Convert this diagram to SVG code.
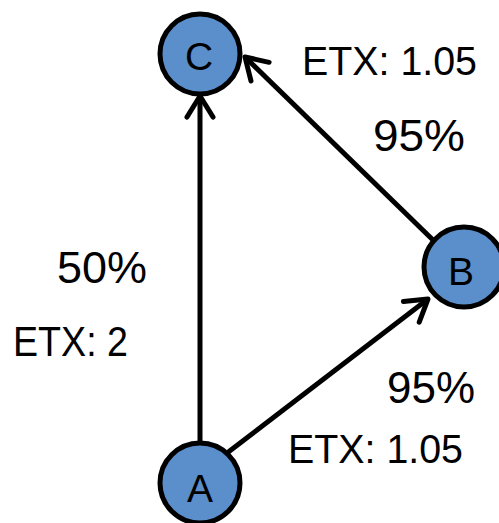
<svg xmlns="http://www.w3.org/2000/svg" width="499" height="523" viewBox="0 0 499 523">
<style>
.node circle{fill:#5B8FCB;stroke:#000;stroke-width:5}
.lbl{font-family:"Liberation Sans",Arial,sans-serif;fill:#000}
.nl{font-family:"Liberation Sans",Arial,sans-serif;font-size:39px;fill:#000;text-anchor:middle}
.edge{fill:none;stroke:#000;stroke-width:5}
</style>
<defs>
<marker id="arr" markerUnits="userSpaceOnUse" viewBox="-30 -20 40 40" markerWidth="40" markerHeight="40" refX="0" refY="0" orient="auto" overflow="visible">
<path d="M-21,-13 L0,0 L-21,13" fill="none" stroke="#000" stroke-width="5" stroke-linejoin="round" stroke-linecap="round"/>
</marker>
</defs>
<rect width="499" height="523" fill="#fff"/>
<g id="node-C" class="node"><circle cx="200" cy="54" r="40"/><text class="nl" x="199" y="70">C</text></g>
<g id="node-B" class="node"><circle cx="464" cy="267" r="40"/><text class="nl" x="461" y="285">B</text></g>
<g id="node-A" class="node"><circle cx="200" cy="483" r="40"/><text class="nl" x="200" y="502">A</text></g>
<g id="connectors">
<path class="edge" d="M200,441 L200,96" marker-end="url(#arr)"/>
<path class="edge" d="M433,240 L245,57" marker-end="url(#arr)"/>
<path class="edge" d="M227,453 L428,299" marker-end="url(#arr)"/>
</g>
<g id="labels">
<text class="lbl" x="302" y="75" font-size="41" textLength="175" lengthAdjust="spacingAndGlyphs">ETX: 1.05</text>
<text class="lbl" x="373" y="151" font-size="44" textLength="92" lengthAdjust="spacingAndGlyphs">95%</text>
<text class="lbl" x="57" y="283" font-size="45" textLength="90" lengthAdjust="spacingAndGlyphs">50%</text>
<text class="lbl" x="13" y="356" font-size="42" textLength="115" lengthAdjust="spacingAndGlyphs">ETX: 2</text>
<text class="lbl" x="387" y="403" font-size="44" textLength="88" lengthAdjust="spacingAndGlyphs">95%</text>
<text class="lbl" x="288" y="463" font-size="41" textLength="175" lengthAdjust="spacingAndGlyphs">ETX: 1.05</text>
</g>
</svg>
